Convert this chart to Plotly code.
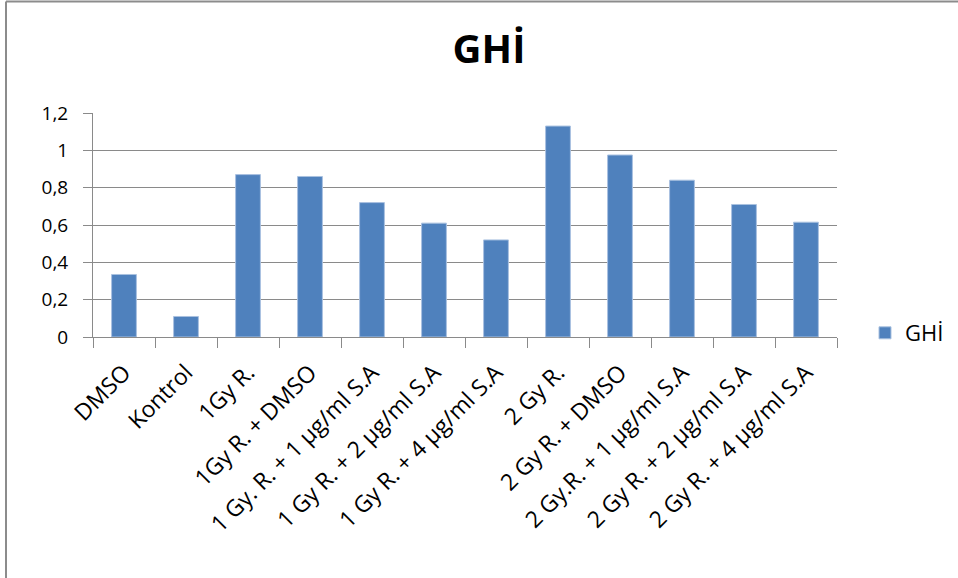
import plotly.graph_objects as go

# Treatment groups and the measured GHİ values
categories = [
    "DMSO",
    "Kontrol",
    "1Gy R.",
    "1Gy R. + DMSO",
    "1 Gy. R. + 1 µg/ml S.A",
    "1 Gy R. + 2 µg/ml S.A",
    "1 Gy R. + 4 µg/ml S.A",
    "2 Gy R.",
    "2 Gy R. + DMSO",
    "2 Gy.R. + 1 µg/ml S.A",
    "2 Gy R. + 2 µg/ml S.A",
    "2 Gy R. + 4 µg/ml S.A",
]
ghi_values = [0.335, 0.11, 0.87, 0.86, 0.72, 0.61, 0.52, 1.13, 0.975, 0.84, 0.71, 0.615]
y_ticks = [0, 0.2, 0.4, 0.6, 0.8, 1.0, 1.2]
series_name = "GHİ"

W, H = 958, 578
ML, MR, MT, MB = 93, 121, 113, 241
plot_w = W - ML - MR
plot_h = H - MT - MB

FONT = "Open Sans, Noto Sans, sans-serif"
GRID = "#8A8A8A"

fig = go.Figure(
    go.Bar(
        x=categories,
        y=ghi_values,
        name=series_name,
        marker=dict(color="#4F81BD", line=dict(color="#A9C1E0", width=1)),
        showlegend=True,
    )
)

# Outer chart-area frame (top and left edges)
fx0 = (6 - ML) / plot_w
fy_top = (H - MB - 1.5) / plot_h
fy_bot = (H - MB - H) / plot_h
fx1 = (W - ML) / plot_w
frame = dict(color="#8C8C8C", width=2)

fig.update_layout(
    width=W,
    height=H,
    margin=dict(l=ML, r=MR, t=MT, b=MB, autoexpand=False),
    paper_bgcolor="white",
    plot_bgcolor="white",
    separators=", ",
    bargap=0.6,
    font=dict(family=FONT, color="#000000", size=18),
    title=dict(
        text="<b>GHİ</b>",
        x=489 / W,
        xref="container",
        xanchor="center",
        y=1 - 49 / H,
        yref="container",
        yanchor="middle",
        font=dict(family=FONT, size=40, color="#000000"),
    ),
    legend=dict(
        x=(865 - ML) / plot_w,
        xanchor="left",
        y=4 / plot_h,
        yanchor="middle",
        font=dict(family=FONT, size=22, color="#000000"),
        bgcolor="rgba(0,0,0,0)",
        itemwidth=30,
    ),
    shapes=[
        dict(type="line", xref="paper", yref="paper", x0=fx0, x1=fx0,
             y0=fy_bot, y1=fy_top, line=frame),
        dict(type="line", xref="paper", yref="paper", x0=fx0, x1=fx1,
             y0=fy_top, y1=fy_top, line=frame),
    ],
)

fig.update_xaxes(
    type="category",
    tickangle=-45,
    tickson="boundaries",
    ticks="outside",
    ticklen=10,
    tickcolor=GRID,
    showline=True,
    linecolor=GRID,
    linewidth=1,
    showgrid=False,
    ticklabelstandoff=12,
    tickfont=dict(family=FONT, size=23, color="#000000"),
)

fig.update_yaxes(
    range=[0, 1.2],
    tickvals=y_ticks,
    tickformat="",
    ticks="outside",
    ticklen=9,
    tickcolor=GRID,
    showline=True,
    linecolor=GRID,
    linewidth=1,
    showgrid=True,
    gridcolor=GRID,
    gridwidth=1,
    zeroline=False,
    ticklabelstandoff=11,
    tickfont=dict(family=FONT, size=19, color="#000000"),
)

fig.write_html("out.html")
